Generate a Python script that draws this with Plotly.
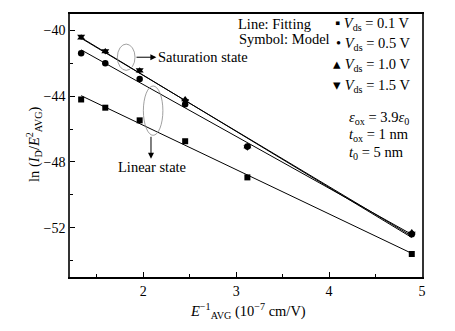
import numpy as np
import plotly.graph_objects as go

# ---- data ----
x_inv_e = [1.33, 1.59, 1.96, 2.45, 3.12, 4.89]
v_01 = [-44.2, -44.7, -45.47, -46.74, -48.94, -53.6]
v_05 = [-41.39, -42.0, -42.96, -44.49, -47.06, -52.4]
v_10 = [-40.45, -41.28, -42.45, -44.2, -47.06, -52.3]
v_15 = [-40.37, -41.25, -42.4, -44.3, -47.1, -52.35]
series_names = ["0.1", "0.5", "1.0", "1.5"]
x_ticks = [2, 3, 4, 5]
y_ticks = [-40, -44, -48, -52]

FONT = "Liberation Serif"
W, H = 455, 331
L, R, T, B = 70, 33, 14, 54

def px(xp):
    return (xp - L) / (W - L - R)

def py(yp):
    return (H - B - yp) / (H - T - B)

fig = go.Figure()
series = [v_01, v_05, v_10, v_15]
symbols = ["square", "circle", "triangle-up", "triangle-down"]
sizes = [6, 6.5, 7, 7]
xa = np.array(x_inv_e)
for ys, sym, sz in zip(series, symbols, sizes):
    k, b = np.polyfit(xa, np.array(ys), 1)
    xl = np.array([xa.min(), xa.max()])
    fig.add_trace(go.Scatter(x=xl, y=k * xl + b, mode="lines",
                             line=dict(color="black", width=1), showlegend=False,
                             hoverinfo="skip"))
for ys, sym, sz in zip(series, symbols, sizes):
    fig.add_trace(go.Scatter(x=x_inv_e, y=ys, mode="markers",
                             marker=dict(symbol=sym, size=sz, color="black"),
                             showlegend=False))

# ellipses
fig.add_shape(type="circle", xref="x", yref="y", x0=1.72, x1=1.91, y0=-42.43, y1=-40.83,
              line=dict(color="#888", width=0.8))
fig.add_shape(type="circle", xref="x", yref="y", x0=2.0, x1=2.21, y0=-46.38, y1=-43.38,
              line=dict(color="#888", width=0.8))

ann = []
# arrows
ann.append(dict(x=2.14, y=-41.63, ax=1.91, ay=-41.63, xref="x", yref="y", axref="x", ayref="y",
                text="", showarrow=True, arrowhead=2, arrowsize=1.2, arrowwidth=1, arrowcolor="black"))
ann.append(dict(x=2.082, y=-47.8, ax=2.082, ay=-46.38, xref="x", yref="y", axref="x", ayref="y",
                text="", showarrow=True, arrowhead=2, arrowsize=1.2, arrowwidth=1, arrowcolor="black"))

def txt(x, y, s, anchor="left", size=14.5):
    ann.append(dict(x=px(x), y=py(y), xref="paper", yref="paper", text=s, showarrow=False,
                    xanchor=anchor, yanchor="middle", font=dict(family=FONT, size=size, color="black")))

txt(156, 57, "Saturation state")
txt(152, 167, "Linear state", anchor="center")
txt(236, 24, "Line: Fitting")
txt(237, 39, "Symbol: Model")
glyphs = ["\u25aa", "\u2022", "\u25b4", "\u25be"]
rows = [24, 44, 65, 86]
for g, n, r in zip(glyphs, series_names, rows):
    txt(412, r, g + " <i>V</i><sub>ds</sub> = " + n + " V", anchor="right")
txt(347, 118, "<i>ε</i><sub>ox</sub> = 3.9<i>ε</i><sub>0</sub>")
txt(347, 135, "<i>t</i><sub>ox</sub> = 1 nm")
txt(347, 153, "<i>t</i><sub>0</sub> = 5 nm")
# axis titles
ann.append(dict(x=px(22), y=py(145), xref="paper", yref="paper", showarrow=False, textangle=-90,
                text="ln (<i>I</i><sub>D</sub>/<i>E</i><sup>2</sup><sub>AVG</sub>)",
                font=dict(family=FONT, size=14.5, color="black")))
ann.append(dict(x=px(248), y=py(311), xref="paper", yref="paper", showarrow=False,
                yanchor="middle",
                text="<i>E</i><sup>−1</sup><sub>AVG</sub> (10<sup>−7</sup> cm/V)",
                font=dict(family=FONT, size=14.5, color="black")))

fig.update_layout(
    width=W, height=H, margin=dict(l=L, r=R, t=T, b=B),
    paper_bgcolor="white", plot_bgcolor="white",
    annotations=ann,
    font=dict(family=FONT, size=14, color="black"),
    xaxis=dict(range=[1.21, 5.0], tickvals=x_ticks, ticks="inside", ticklen=5, tickwidth=1,
               tickcolor="black", showgrid=False, zeroline=False, showline=True,
               linecolor="black", linewidth=2, mirror=True, ticklabelstandoff=0,
               minor=dict(tickvals=[1.5, 2.5, 3.5, 4.5], ticks="inside", ticklen=3,
                          tickcolor="black", showgrid=False)),
    yaxis=dict(range=[-55, -39], tickvals=y_ticks, ticks="inside", ticklen=5, tickwidth=1,
               tickcolor="black", showgrid=False, zeroline=False, showline=True,
               linecolor="#333", linewidth=1.5, mirror=True,
               minor=dict(tickvals=[-42, -46, -50, -54], ticks="inside", ticklen=3,
                          tickcolor="black", showgrid=False)),
)
fig.write_html("out.html")
